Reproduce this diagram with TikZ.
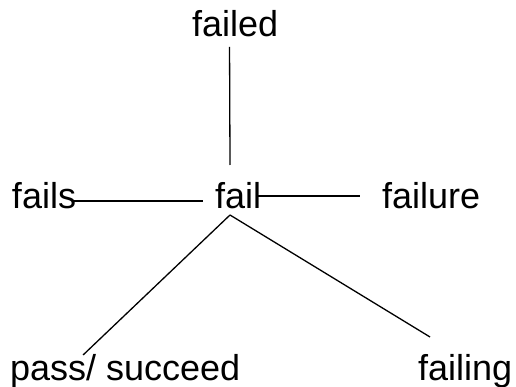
\documentclass[tikz,border=0pt]{standalone}
\usepackage{fontspec}
\setmainfont{Liberation Sans}
\begin{document}
\begin{tikzpicture}[x=1pt,y=-1pt,
  word/.style={inner sep=0pt,outer sep=0pt,anchor=base west,font=\fontsize{36}{43}\selectfont},
  link/.style={line width=1.3pt,black}]
\useasboundingbox[fill=white] (0,0) rectangle (516,387);
\node[word] (failed) at (192,37) {failed};
\node[word] (fails) at (12,209) {fails};
\node[word] (fail) at (215,209) {fail};
\node[word] (failure) at (382,209) {failure};
\node[word] (pass) at (10,380) {pass/ succeed};
\node[word] (failing) at (418,380) {failing};
\draw[link] ([shift={(-5.5,10)}]failed.base) -- ([shift={(-8,-44)}]fail.base);
\draw[link] ([shift={(-3,-8)}]fails.base east) -- ([shift={(-12,-8)}]fail.base west);
\draw[link] ([shift={(-3,-13)}]fail.base east) -- ([shift={(-22,-13)}]failure.base west);
\draw[link] ([shift={(-8,6)}]fail.base) -- ([shift={(-42,-25)}]pass.base);
\draw[link] ([shift={(-8,6)}]fail.base) -- ([shift={(-35,-43)}]failing.base);
\end{tikzpicture}
\end{document}
